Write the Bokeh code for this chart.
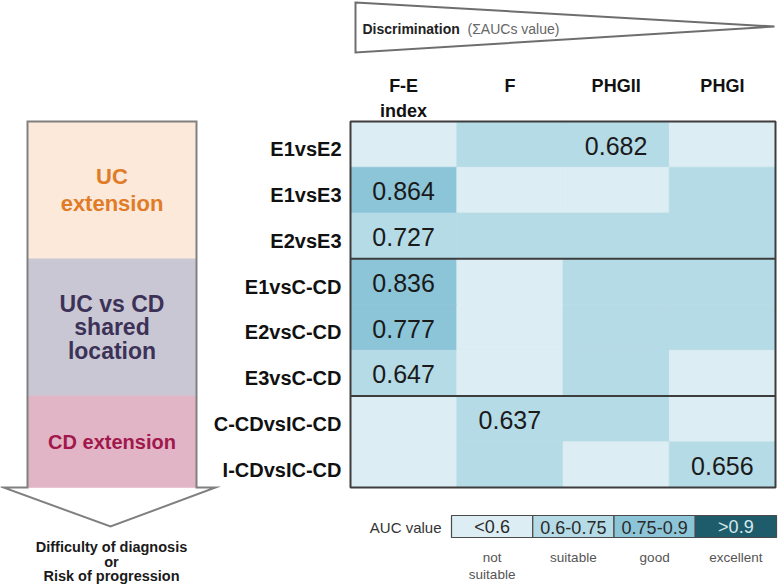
from bokeh.plotting import figure
from bokeh.models import Range1d
from bokeh.embed import file_html
from bokeh.resources import INLINE
from bokeh.core.properties import value

# ---------------- data ----------------
rows = ["E1vsE2", "E1vsE3", "E2vsE3", "E1vsC-CD", "E2vsC-CD",
        "E3vsC-CD", "C-CDvsIC-CD", "I-CDvsIC-CD"]
cols = ["F-E\nindex", "F", "PHGII", "PHGI"]
# AUC class of every cell: 0 = <0.6, 1 = 0.6-0.75, 2 = 0.75-0.9, 3 = >0.9
auc_class = [
    [0, 1, 1, 0],
    [2, 0, 0, 1],
    [1, 1, 1, 1],
    [2, 0, 1, 1],
    [2, 0, 1, 1],
    [1, 0, 1, 0],
    [0, 1, 1, 0],
    [0, 1, 0, 1],
]
best_col = [2, 0, 0, 0, 0, 0, 1, 3]
best_auc = [0.682, 0.864, 0.727, 0.836, 0.777, 0.647, 0.637, 0.656]

class_labels = ["<0.6", "0.6-0.75", "0.75-0.9", ">0.9"]
class_desc = ["not\nsuitable", "suitable", "good", "excellent"]
legend_title = "AUC value"

group_names = ["UC\nextension", "UC vs CD\nshared\nlocation", "CD extension"]
group_sizes = [3, 3, 2]

title_bold = "Discrimination"
title_rest = "(\u03a3AUCs value)"
bottom_note = ["Difficulty of diagnosis", "or", "Risk of progression"]

# ---------------- styles ----------------
palette = ["#dcedf3", "#b5dbe6", "#8cc5d7", "#1f5c6b"]
legend_text_col = ["#2a2a2a", "#2a2a2a", "#2a2a2a", "#d6e9ee"]
group_fill = ["#fce9da", "#c9c7d3", "#e1b5c5"]
group_text = ["#e07b28", "#3c3258", "#a1184c"]
group_font = ["22px", "23px", "20px"]
group_spacing = [26.5, 23.5, 24]
FONT = value("Liberation Sans")
EDGE = "#3d3d3d"

W, H = 779, 585
COLW, ROWH = 106.25, 45.75
X0, Y0 = 350, 121


def X(px):
    return (px - X0) / COLW


def Y(py):
    return (py - Y0) / ROWH


p = figure(width=W, height=H,
           x_range=Range1d(X(0), X(W)), y_range=Range1d(Y(H), Y(0)),
           output_backend="svg", toolbar_location=None, min_border=0,
           x_axis_location=None, y_axis_location=None)
p.grid.visible = False
p.outline_line_color = None
p.background_fill_color = "white"
p.border_fill_color = "white"

nr, nc = len(rows), len(cols)

# ---------------- heatmap ----------------
cl, cr, ct, cb, cc = [], [], [], [], []
for r, row in enumerate(auc_class):
    for c, k in enumerate(row):
        cl.append(c); cr.append(c + 1); ct.append(r); cb.append(r + 1)
        cc.append(palette[k])
p.quad(left=cl, right=cr, top=ct, bottom=cb, fill_color=cc, line_color=cc,
       line_width=0.6)

# group separators & outline
bounds = []
acc = 0
for s in group_sizes[:-1]:
    acc += s
    bounds.append(acc)
p.segment(x0=[0] * len(bounds), x1=[nc] * len(bounds), y0=bounds, y1=bounds,
          line_color=EDGE, line_width=2)
p.quad(left=[0], right=[nc], top=[0], bottom=[nr], fill_color=None,
       line_color=EDGE, line_width=2)

# values
p.text(x=[c + 0.5 for c in best_col], y=[r + 0.53 for r in range(nr)],
       text=[f"{v:.3f}" for v in best_auc], text_font=FONT,
       text_font_size="25px", text_align="center", text_baseline="middle",
       text_color="#1a1a1a")

# row labels
p.text(x=[X(341)] * nr, y=[r + 0.5 + 5 / ROWH for r in range(nr)], text=rows,
       text_font=FONT, text_font_style="bold", text_font_size="20px",
       text_align="right", text_baseline="middle", text_color="#111111")

# column headers
hx, hy, ht = [], [], []
for c, lab in enumerate(cols):
    for k, line in enumerate(lab.split("\n")):
        hx.append(c + 0.5); hy.append(Y(85) + k * 25.5 / ROWH); ht.append(line)
p.text(x=hx, y=hy, text=ht, text_font=FONT, text_font_style="bold",
       text_font_size="18px", text_align="center", text_baseline="middle",
       text_color="#111111")

# ---------------- left arrow ----------------
starts, ends = [], []
acc = 0
for s in group_sizes:
    starts.append(acc); acc += s; ends.append(acc)
p.quad(left=[X(27)] * len(starts), right=[X(196)] * len(starts), top=starts,
       bottom=ends, fill_color=group_fill, line_color=group_fill, line_width=0.5)
p.patch(x=[X(27), X(196), X(196), X(215), X(110), X(3), X(27), X(27)],
        y=[0, 0, nr, nr, Y(526), nr, nr, 0], fill_color=None,
        line_color="#808080", line_width=2, line_join="miter")

for g, name in enumerate(group_names):
    lines = name.split("\n")
    mid = (starts[g] + ends[g]) / 2
    sp = group_spacing[g] / ROWH
    gy = [mid + (k - (len(lines) - 1) / 2) * sp for k in range(len(lines))]
    p.text(x=[X(111.5)] * len(lines), y=gy, text=lines,
           text_color=group_text[g], text_font=FONT, text_font_style="bold",
           text_font_size=group_font[g], text_align="center",
           text_baseline="middle")

p.text(x=[X(111)] * 3, y=[Y(546), Y(561), Y(575.5)], text=bottom_note,
       text_font=FONT, text_font_style="bold", text_font_size="14.5px",
       text_align="center", text_baseline="middle", text_color="#1a1a1a")

# ---------------- top triangle ----------------
p.patch(x=[X(355), X(774), X(355)], y=[Y(2), Y(26), Y(52)],
        fill_color="white", line_color="#6e6e6e", line_width=2,
        line_join="miter")
p.text(x=[X(362)], y=[Y(28)], text=[title_bold], text_font=FONT,
       text_font_style="bold", text_font_size="14px", text_align="left",
       text_baseline="middle", text_color="#222222")
p.text(x=[X(467)], y=[Y(28)], text=[title_rest], text_font=FONT,
       text_font_size="14px", text_align="left", text_baseline="middle",
       text_color="#666666")

# ---------------- legend ----------------
lg_left, lg_right = 451, 776
n = len(class_labels)
step = (lg_right - lg_left) / n
ll = [X(lg_left + i * step) for i in range(n)]
lr = [X(lg_left + (i + 1) * step) for i in range(n)]
p.quad(left=ll, right=lr, top=[Y(515)] * n, bottom=[Y(537)] * n,
       fill_color=palette, line_color="#4a4a4a", line_width=1.2)
lc = [(a + b) / 2 for a, b in zip(ll, lr)]
p.text(x=lc, y=[Y(526.5)] * n, text=class_labels, text_color=legend_text_col,
       text_font=FONT, text_font_size="18px", text_align="center",
       text_baseline="middle")
dx, dy, dt = [], [], []
for i, d in enumerate(class_desc):
    for k, line in enumerate(d.split("\n")):
        dx.append(lc[i]); dy.append(Y(557) + k * 16.5 / ROWH); dt.append(line)
p.text(x=dx, y=dy, text=dt, text_font=FONT, text_font_size="13.5px",
       text_align="center", text_baseline="middle", text_color="#555555")
p.text(x=[X(441)], y=[Y(526.5)], text=[legend_title], text_font=FONT,
       text_font_size="15px", text_align="right", text_baseline="middle",
       text_color="#333333")

open("out.html", "w").write(file_html(p, INLINE))
